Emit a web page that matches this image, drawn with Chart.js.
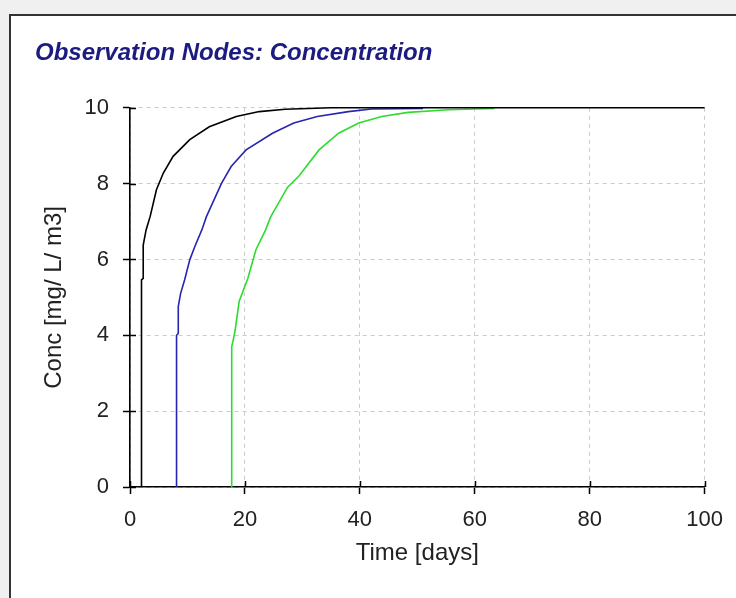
<!DOCTYPE html>
<html>
<head>
<meta charset="utf-8">
<script src="https://cdn.jsdelivr.net/npm/chart.js@4/dist/chart.umd.min.js"></script>
<style>
  html, body { margin: 0; padding: 0; background: #f0f0f0; overflow: hidden; }
  #panel {
    position: absolute; left: 9px; top: 14px; width: 760px; height: 620px;
    background: #fff; border-left: 2px solid #333; border-top: 2px solid #333;
  }
  #wrap { position: absolute; left: 0; top: 0; width: 736px; height: 598px; }
</style>
</head>
<body>
<div id="panel"></div>
<div id="wrap"><canvas id="concChart" width="736" height="598"></canvas></div>
<script>
// observation node curves
const blackTime = [2.0, 2.0, 2.3, 2.3, 2.8, 3.5, 4.6, 5.8, 7.5, 10.4, 13.8, 18.5, 22.5, 27, 35, 100];
const blackConc = [0, 5.46, 5.5, 6.38, 6.78, 7.13, 7.84, 8.28, 8.72, 9.16, 9.5, 9.77, 9.9, 9.96, 10, 10];

const blueTime = [8.1, 8.1, 8.4, 8.4, 8.8, 9.5, 10.4, 11.3, 12.5, 13.3, 15.9, 17.6, 20.2, 24.8, 28.5, 32.6, 38, 42, 51];
const blueConc = [0, 4.0, 4.05, 4.76, 5.1, 5.46, 5.99, 6.35, 6.78, 7.13, 8.0, 8.45, 8.89, 9.33, 9.6, 9.77, 9.9, 9.97, 9.98];

const greenTime = [17.6, 17.6, 17.75, 17.75, 18.0, 18.3, 19.0, 20.5, 21.9, 23.6, 24.5, 27.4, 29.4, 32.9, 36.3, 39.8, 43.8, 48.4, 55.4, 63.4];
const greenConc = [0, 0.71, 0.75, 3.7, 3.9, 4.14, 4.9, 5.5, 6.25, 6.78, 7.13, 7.9, 8.2, 8.89, 9.33, 9.6, 9.77, 9.88, 9.95, 9.98];

const xTicks = [0, 20, 40, 60, 80, 100];
const yTicks = [0, 2, 4, 6, 8, 10];

function toPoints(xs, ys) {
    return xs.map((x, i) => ({ x: x, y: ys[i] }));
}

const fontName = "'Liberation Sans', Arial, sans-serif";

// tick marks poke into the plot too, like the original
const innerTicks = {
    id: 'innerTicks',
    afterDraw(chart) {
        const c = chart.ctx;
        const xs = chart.scales.x, ys = chart.scales.y;
        c.save();
        c.strokeStyle = '#000';
        c.lineWidth = 1.5;
        c.beginPath();
        xTicks.forEach(v => {
            const px = Math.round(xs.getPixelForValue(v)) + 0.5;
            c.moveTo(px, xs.top);
            c.lineTo(px, xs.top - 6);
        });
        yTicks.forEach(v => {
            const py = Math.round(ys.getPixelForValue(v)) + 0.5;
            c.moveTo(ys.right, py);
            c.lineTo(ys.right + 6, py);
        });
        c.stroke();
        c.restore();
    }
};

window.onload = function() {
    const ctx = document.getElementById('concChart').getContext('2d');

    new Chart(ctx, {
        type: 'line',
        data: {
            datasets: [
                { data: toPoints(blackTime, blackConc), borderColor: '#000000' },
                { data: toPoints(blueTime, blueConc), borderColor: '#2626b0' },
                { data: toPoints(greenTime, greenConc), borderColor: '#2ddc2d' }
            ]
        },
        options: {
            responsive: false,
            animation: false,
            elements: {
                point: { radius: 0 },
                line: { borderWidth: 1.6, tension: 0, fill: false }
            },
            datasets: { line: { clip: false } },
            layout: { padding: { left: 35, right: 28, top: 39, bottom: 0 } },
            plugins: {
                legend: { display: false },
                tooltip: { enabled: false },
                title: {
                    display: true,
                    text: 'Observation Nodes: Concentration',
                    align: 'start',
                    color: '#1c1c80',
                    font: { family: fontName, size: 24, weight: 'bold', style: 'italic' },
                    padding: { top: 0, bottom: 40 }
                }
            },
            scales: {
                x: {
                    type: 'linear',
                    min: 0,
                    max: 100,
                    afterBuildTicks: axis => { axis.ticks = xTicks.map(v => ({ value: v })); },
                    afterFit: axis => { axis.height = 111; },
                    grid: {
                        color: '#cccccc',
                        tickColor: '#000',
                        tickLength: 7,
                        tickWidth: 1.5,
                        tickBorderDash: []
                    },
                    border: { color: '#000', width: 1.6, dash: [4, 4] },
                    ticks: { color: '#222', padding: 13, font: { family: fontName, size: 22 } },
                    title: {
                        display: true,
                        text: 'Time [days]',
                        color: '#222',
                        font: { family: fontName, size: 24 },
                        padding: { top: 0, bottom: 30 }
                    }
                },
                y: {
                    type: 'linear',
                    min: 0,
                    max: 10,
                    afterBuildTicks: axis => { axis.ticks = yTicks.map(v => ({ value: v })); },
                    afterFit: axis => { axis.width = 95; },
                    grid: {
                        color: '#cccccc',
                        tickColor: '#000',
                        tickLength: 7,
                        tickWidth: 1.5,
                        tickBorderDash: []
                    },
                    border: { color: '#000', width: 1.6, dash: [4, 4] },
                    ticks: { color: '#222', padding: 14, font: { family: fontName, size: 22 } },
                    title: {
                        display: true,
                        text: 'Conc [mg/ L/ m3]',
                        color: '#222',
                        font: { family: fontName, size: 24 },
                        padding: { top: 5, bottom: 0 }
                    }
                }
            }
        },
        plugins: [innerTicks]
    });
};
</script>
</body>
</html>
